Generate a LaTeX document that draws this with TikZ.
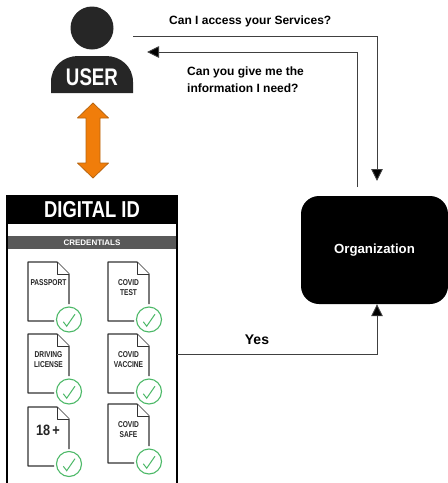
\documentclass[tikz,border=0pt]{standalone}
\usepackage{fontspec}
\setmainfont{Liberation Sans}
\usetikzlibrary{arrows.meta}

\newcommand{\narrowtxt}[2]{\scalebox{#1}[1]{#2}}

\begin{document}
\begin{tikzpicture}[x=1pt,y=-1pt]
\definecolor{panelgray}{HTML}{595959}
\definecolor{checkgreen}{HTML}{4DB968}
\definecolor{arroworange}{HTML}{F07D0A}
\definecolor{arrowedge}{HTML}{B9650F}
\definecolor{linegray}{HTML}{404040}

\tikzstyle{question} = [font=\fontsize{12}{17}\selectfont\bfseries, align=left, inner sep=0pt, anchor=west]
\tikzstyle{docsheet} = [draw=black!80, line width=1.1pt, line join=round, fill=white]
\tikzstyle{tick} = [circle, draw=checkgreen, line width=1.1pt, fill=white, minimum size=25pt, inner sep=0pt]
\tikzstyle{doclabel} = [font=\fontsize{8.5}{9.5}\selectfont\bfseries, align=center, inner sep=0pt, text=black!85]
\tikzstyle{line} = [draw=linegray, line width=0.9pt];
\tikzstyle{head} = [-{Triangle[length=12pt,width=11.5pt,fill=black]}]

\useasboundingbox (0,0) rectangle (448,483);

% user
\node [circle, fill=black!85, minimum size=43pt, inner sep=0pt] (userhead) at (92,28) {};
\fill [black!85] (51,93) -- (51,82) .. controls (51,66) and (64,56) .. (78,56) -- (106,56)
  .. controls (120,56) and (133,66) .. (133,82) -- (133,93) -- cycle;
\node [text=white, font=\fontsize{24}{24}\selectfont\bfseries, inner sep=0pt] (usertxt) at (92,77) {\narrowtxt{0.78}{USER}};
\draw [fill=arroworange, draw=arrowedge, line width=0.8pt, line join=round]
  (93,103) -- (108.5,118) -- (100,118) -- (100,163) -- (108.5,163) -- (93,178)
  -- (77.5,163) -- (86,163) -- (86,118) -- (77.5,118) -- cycle;

% digital id card
\node [rectangle, draw=black, line width=1.5pt, fill=white, minimum width=170pt, minimum height=288pt, inner sep=0pt] (panel) at (92,340) {};
\node [rectangle, fill=black, minimum width=172pt, minimum height=28pt, inner sep=0pt, text=white, font=\fontsize{23}{23}\selectfont\bfseries] (cardtitle) at (92,210) {\narrowtxt{0.8}{DIGITAL ID}};
\node [rectangle, fill=panelgray, minimum width=168pt, minimum height=13pt, inner sep=0pt, text=white, font=\fontsize{8}{8}\selectfont\bfseries] (credbar) at (92,242.5) {CREDENTIALS};

% credentials
\foreach \name/\dx/\dy/\ly/\txt in {pass/28/262/21/PASSPORT, test/108/262/25.5/{COVID\\TEST},
  drive/28/334/25.5/{DRIVING\\LICENSE}, vaccine/108/334/25.5/{COVID\\VACCINE},
  safe/108/404/25.5/{COVID\\SAFE}}
{
  \draw [docsheet] (\dx+26,\dy+59) -- (\dx,\dy+59) -- (\dx,\dy) -- (\dx+29,\dy) -- (\dx+41,\dy+12) -- (\dx+41,\dy+42);
  \draw [docsheet, line width=0.8pt] (\dx+29,\dy) -- (\dx+29,\dy+12) -- (\dx+41,\dy+12);
  \node [doclabel] (\name txt) at (\dx+20.5,\dy+\ly) {\narrowtxt{0.78}{\parbox{48pt}{\centering\txt}}};
  \node [tick] (\name chk) at (\dx+41,\dy+57.5) {};
  \draw [checkgreen, line width=1pt] (\dx+35.3,\dy+59.8) -- (\dx+38.7,\dy+64.2) -- (\dx+47,\dy+52.2);
}
% the 18+ sheet
\draw [docsheet] (54,466) -- (28,466) -- (28,407) -- (57,407) -- (69,419) -- (69,449);
\draw [docsheet, line width=0.8pt] (57,407) -- (57,419) -- (69,419);
\node [font=\fontsize{15}{15}\selectfont\bfseries, text=black!85, inner sep=0pt] (agetxt) at (48,430) {\narrowtxt{0.85}{18\,+}};
\node [tick] (agechk) at (69,464) {};
\draw [checkgreen, line width=1pt] (63.3,466.3) -- (66.7,470.7) -- (75,458.7);

% organization
\node [rectangle, fill=black, rounded corners=18pt, minimum width=147pt, minimum height=108pt, inner sep=0pt, text=white, font=\fontsize{13.2}{13.2}\selectfont\bfseries] (org) at (374.5,250) {Organization};

% ends of the lines
\coordinate (userout) at (133,36);
\coordinate (orgin) at (377,181);
\coordinate (orgout) at (357,187);
\coordinate (userin) at (147,52);
\coordinate (yesout) at (177,354);

\path [line, head] (userout) -- (orgin |- userout) -- (orgin);
\path [line, head] (orgout) -- (orgout |- userin) -- (userin);
\path [line, head] (yesout) -- (orgin |- yesout) -- (orgin |- org.south);

\node [question] (asktxt) at (169,21) {Can I access your Services?};
\node [question] (givetxt) at (187,80) {Can you give me the\\information I need?};
\node [font=\fontsize{14}{14}\selectfont\bfseries, inner sep=0pt] (yestxt) at (257,340) {Yes};
\end{tikzpicture}
\end{document}
